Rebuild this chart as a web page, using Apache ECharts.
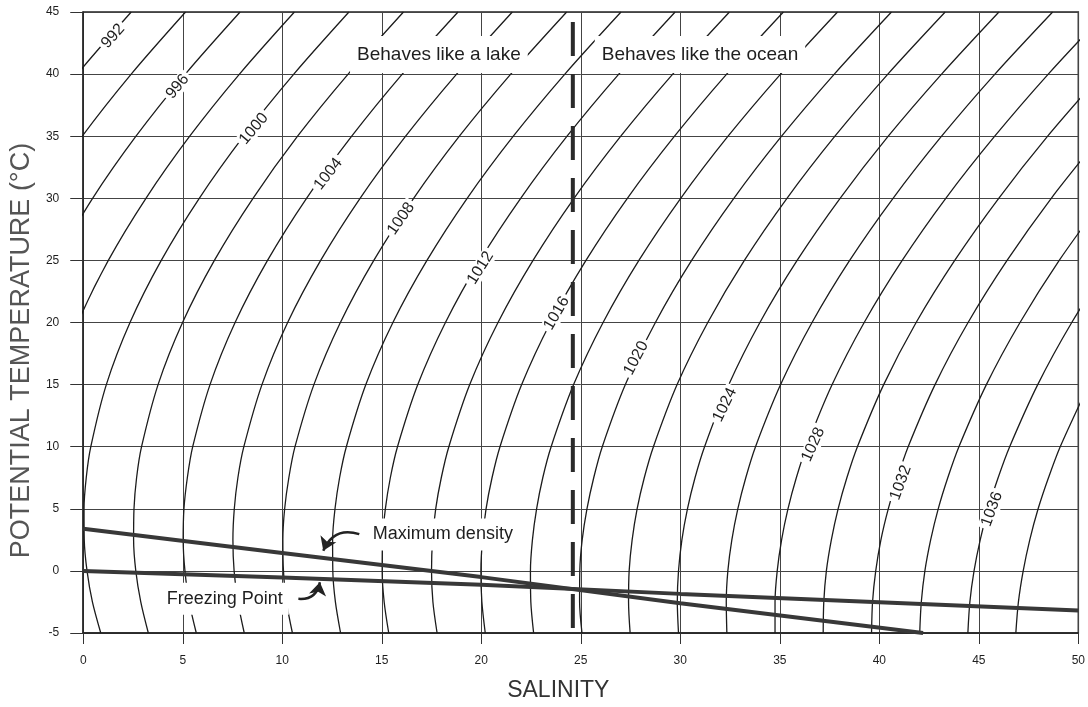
<!DOCTYPE html>
<html>
<head>
<meta charset="utf-8">
<title>Potential temperature vs salinity</title>
<script src="https://cdn.jsdelivr.net/npm/echarts@6/dist/echarts.min.js"></script>
<style>
  html, body { margin: 0; padding: 0; background: #fff; }
  #chart { width: 1088px; height: 707px; }
</style>
</head>
<body>
<div id="chart"></div>
<script>
// temperature levels at which each density contour was read (°C)
const temps = [-5, -2.5, 0, 2.5, 5, 7.5, 10, 15, 20, 25, 30, 35, 40, 45];

// salinity of each density contour at the temperatures above (null = off the chart)
const sal992 = [null, null, null, null, null, null, null, null, null, null, null, -2.72, -0.30, 2.41];
const sal994 = [null, null, null, null, null, null, null, null, null, null, -2.19, -0.05, 2.41, 5.14];
const sal996 = [null, null, null, null, null, null, null, null, null, -1.38, 0.47, 2.65, 5.13, 7.88];
const sal998 = [null, null, null, null, null, null, null, -1.42, -0.27, 1.26, 3.15, 5.35, 7.85, 10.61];
const sal1000 = [0.88, 0.46, 0.19, 0.05, 0.04, 0.15, 0.38, 1.16, 2.35, 3.92, 5.83, 8.06, 10.58, 13.35];
const sal1002 = [3.27, 2.89, 2.64, 2.53, 2.55, 2.68, 2.93, 3.76, 4.99, 6.59, 8.53, 10.77, 13.31, 16.09];
const sal1004 = [5.68, 5.32, 5.11, 5.02, 5.06, 5.23, 5.50, 6.37, 7.63, 9.26, 11.22, 13.49, 16.03, 18.83];
const sal1006 = [8.09, 7.77, 7.58, 7.52, 7.59, 7.77, 8.07, 8.98, 10.27, 11.93, 13.91, 16.20, 18.76, 21.56];
const sal1008 = [10.51, 10.21, 10.06, 10.03, 10.12, 10.33, 10.64, 11.59, 12.92, 14.60, 16.60, 18.90, 21.48, 24.29];
const sal1010 = [12.93, 12.67, 12.54, 12.53, 12.65, 12.88, 13.22, 14.20, 15.56, 17.27, 19.29, 21.61, 24.20, 27.02];
const sal1012 = [15.35, 15.12, 15.02, 15.04, 15.18, 15.43, 15.79, 16.81, 18.20, 19.93, 21.98, 24.31, 26.91, 29.74];
const sal1014 = [17.78, 17.57, 17.50, 17.55, 17.71, 17.99, 18.37, 19.42, 20.84, 22.60, 24.66, 27.01, 29.62, 32.47];
const sal1016 = [20.20, 20.03, 19.98, 20.06, 20.24, 20.54, 20.94, 22.03, 23.48, 25.26, 27.34, 29.71, 32.33, 35.18];
const sal1018 = [22.63, 22.49, 22.47, 22.57, 22.78, 23.09, 23.51, 24.64, 26.12, 27.92, 30.02, 32.40, 35.04, 37.90];
const sal1020 = [25.06, 24.94, 24.95, 25.07, 25.31, 25.65, 26.08, 27.24, 28.75, 30.57, 32.69, 35.09, 37.74, 40.61];
const sal1022 = [27.48, 27.40, 27.43, 27.58, 27.83, 28.19, 28.65, 29.84, 31.38, 33.22, 35.36, 37.77, 40.43, 43.31];
const sal1024 = [29.91, 29.85, 29.91, 30.08, 30.36, 30.74, 31.22, 32.44, 34.00, 35.87, 38.03, 40.45, 43.13, 46.01];
const sal1026 = [32.34, 32.31, 32.39, 32.59, 32.89, 33.29, 33.78, 35.04, 36.62, 38.51, 40.69, 43.13, 45.81, 48.71];
const sal1028 = [34.76, 34.76, 34.87, 35.09, 35.41, 35.83, 36.34, 37.63, 39.24, 41.15, 43.34, 45.80, 48.49, 51.40];
const sal1030 = [37.18, 37.21, 37.34, 37.59, 37.93, 38.37, 38.90, 40.22, 41.85, 43.79, 46.00, 48.46, 51.17, null];
const sal1032 = [39.61, 39.66, 39.82, 40.08, 40.45, 40.91, 41.45, 42.80, 44.46, 46.42, 48.64, 51.13, null, null];
const sal1034 = [42.03, 42.11, 42.29, 42.58, 42.96, 43.44, 44.00, 45.38, 47.07, 49.04, 51.29, null, null, null];
const sal1036 = [44.45, 44.55, 44.76, 45.07, 45.47, 45.97, 46.55, 47.96, 49.67, 51.66, null, null, null, null];
const sal1038 = [46.86, 46.99, 47.23, 47.56, 47.98, 48.50, 49.09, 50.53, null, null, null, null, null, null];

const contours = [sal992, sal994, sal996, sal998, sal1000, sal1002, sal1004, sal1006, sal1008,
  sal1010, sal1012, sal1014, sal1016, sal1018, sal1020, sal1022, sal1024, sal1026, sal1028,
  sal1030, sal1032, sal1034, sal1036, sal1038];

// contour labels: text and where it sits (salinity, temperature)
const labelText = ["992", "996", "1000", "1004", "1008", "1012", "1016", "1020", "1024", "1028", "1032", "1036"];
const labelSal = [1.5, 4.74, 8.57, 12.31, 15.97, 19.96, 23.79, 27.78, 32.24, 36.68, 41.08, 45.66];
const labelTemp = [43.05, 39.0, 35.6, 31.96, 28.36, 24.4, 20.74, 17.13, 13.38, 10.18, 7.1, 4.97];

// temperature of maximum density and freezing point against salinity
const maxDensSal = [0, 10, 20, 30, 42.2];
const maxDensTemp = [3.4, 1.45, -0.5, -2.6, -5];
const freezeSal = [0, 10, 20, 30, 40, 50];
const freezeTemp = [0, -0.53, -1.12, -1.85, -2.52, -3.18];

// lake / ocean divide
const divideSal = 24.6;
const divideTemp = [44.2, -5];

// annotation texts and their arrows (from text to the line)
const noteText = ["Behaves like a lake", "Behaves like the ocean", "Maximum density", "Freezing Point"];
const noteSal = [17.87, 30.99, 18.07, 7.11];
const noteTemp = [41.58, 41.58, 2.93, -2.25];
const arrowFrom = [[13.87, 2.96], [10.81, -2.25]];
const arrowTo = [[12.06, 1.63], [11.89, -0.91]];

const xTicks = [0, 50, 5];
const yTicks = [-5, 45, 5];

const FONT = "'Liberation Sans', Arial, Helvetica, sans-serif";
const INK = "#1e1e1e";
const labelRotate = [48, 50, 50, 52, 55, 58, 60, 62, 64, 66, 70, 70];
const noteSize = [19, 19, 18, 18];
const notePad = [[9, 7], [9, 7], [7, 6], [7, 6]];

const series = [];

contours.forEach((sal) => {
  series.push({
    type: "line",
    data: sal
      .map((s, i) => (s === null ? null : [s, temps[i]]))
      .filter((p) => p !== null),
    smooth: 0.3,
    showSymbol: false,
    symbol: "none",
    silent: true,
    z: 2,
    lineStyle: { color: "#1c1c1c", width: 1.3 },
  });
});

// thick lines
series.push({
  type: "line",
  data: maxDensSal.map((s, i) => [s, maxDensTemp[i]]),
  symbol: "none",
  silent: true,
  z: 3,
  lineStyle: { color: "#383838", width: 4 },
});
series.push({
  type: "line",
  data: freezeSal.map((s, i) => [s, freezeTemp[i]]),
  symbol: "none",
  silent: true,
  z: 3,
  lineStyle: { color: "#383838", width: 4 },
});

// dashed divide
series.push({
  type: "line",
  data: divideTemp.map((t) => [divideSal, t]),
  symbol: "none",
  silent: true,
  z: 6,
  lineStyle: { color: "#2a2a2a", width: 4, type: [34, 18] },
});

// contour labels
series.push({
  type: "scatter",
  symbolSize: 0,
  silent: true,
  z: 4,
  itemStyle: { opacity: 1 },
  data: labelText.map((txt, i) => ({
    value: [labelSal[i], labelTemp[i]],
    name: txt,
    label: { rotate: labelRotate[i] },
  })),
  label: {
    show: true,
    position: "inside",
    formatter: (p) => p.name,
    color: INK,
    fontFamily: FONT,
    fontSize: 16,
    backgroundColor: "#fff",
    padding: [0, 3],
  },
});

// annotations
series.push({
  type: "scatter",
  symbolSize: 0,
  silent: true,
  z: 5,
  itemStyle: { opacity: 1 },
  data: noteText.map((txt, i) => ({
    value: [noteSal[i], noteTemp[i]],
    name: txt,
    label: { fontSize: noteSize[i], padding: notePad[i] },
  })),
  label: {
    show: true,
    position: "inside",
    formatter: (p) => p.name,
    color: INK,
    fontFamily: FONT,
    backgroundColor: "#fff",
  },
});

// curved arrows
series.push({
  type: "lines",
  coordinateSystem: "cartesian2d",
  silent: true,
  z: 6,
  symbol: ["none", "arrow"],
  symbolSize: 13,
  lineStyle: { color: "#222", width: 2.5, opacity: 1, curveness: -0.45 },
  data: arrowFrom.map((p, i) => ({ coords: [p, arrowTo[i]] })),
});

const chart = echarts.init(document.getElementById("chart"));
chart.setOption({
  animation: false,
  backgroundColor: "#fff",
  grid: {
    left: 80,
    right: 6,
    top: 12,
    bottom: 71,
    show: true,
    borderColor: "#222",
    borderWidth: 1.5,
    backgroundColor: "transparent",
  },
  xAxis: {
    type: "value",
    min: xTicks[0],
    max: xTicks[1],
    interval: xTicks[2],
    name: "SALINITY",
    nameLocation: "middle",
    nameGap: 46,
    nameTextStyle: { fontFamily: FONT, fontSize: 23, color: "#333", padding: [0, 45, 0, 0] },
    axisLine: { show: true, onZero: false, lineStyle: { color: "#222", width: 1.5 } },
    axisTick: { show: true, inside: false, length: 11, lineStyle: { color: "#333" } },
    axisLabel: { fontFamily: FONT, fontSize: 12, color: INK, margin: 22 },
    splitLine: { show: true, lineStyle: { color: "#444", width: 1 } },
  },
  yAxis: {
    type: "value",
    min: yTicks[0],
    max: yTicks[1],
    interval: yTicks[2],
    name: "POTENTIAL TEMPERATURE (°C)",
    nameLocation: "middle",
    nameGap: 42,
    nameTextStyle: { fontFamily: FONT, fontSize: 27, color: "#555", padding: [0, 56, 0, 0] },
    axisLine: { show: true, onZero: false, lineStyle: { color: "#222", width: 1.5 } },
    axisTick: { show: true, inside: false, length: 13, lineStyle: { color: "#333" } },
    axisLabel: { fontFamily: FONT, fontSize: 12, color: INK, margin: 24 },
    splitLine: { show: true, lineStyle: { color: "#444", width: 1 } },
  },
  series: series,
});
</script>
</body>
</html>
